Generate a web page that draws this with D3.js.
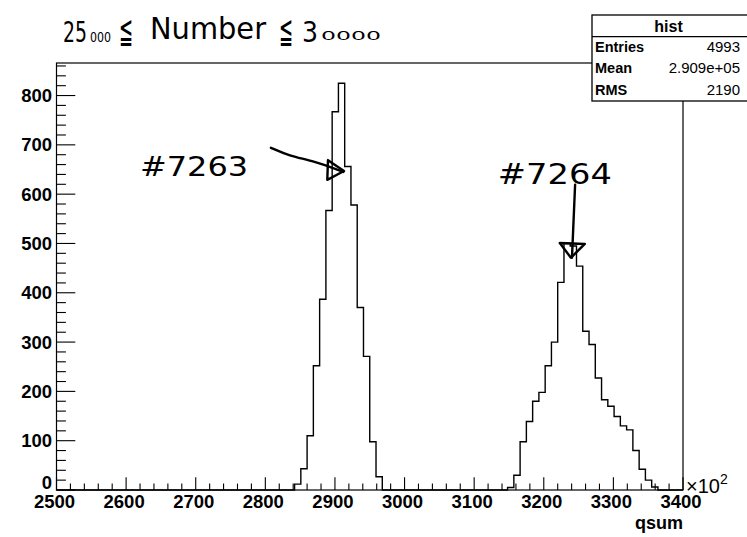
<!DOCTYPE html>
<html><head><meta charset="utf-8">
<script src="https://cdn.jsdelivr.net/npm/d3@7"></script>
<style>body{margin:0;background:#fff}svg{display:block}</style>
</head><body><svg id="c" width="747" height="537"></svg>
<script>
// ---- histogram definition (qsum, axis in units of 10^2) ----
const histLow = 2500, histHigh = 3400, binWidth = 9;
const peak1FirstBin = 38;   // run #7263
const peak1Counts = [12, 43, 110, 252, 387, 567, 767, 825, 656, 578, 370, 271, 98, 27];
const peak2FirstBin = 72;   // run #7264
const peak2Counts = [5, 30, 98, 139, 180, 198, 252, 300, 421, 500, 495, 454, 322, 295, 227, 183, 170, 149, 130, 122, 80, 42, 20, 6];
const xTicks = [2500, 2600, 2700, 2800, 2900, 3000, 3100, 3200, 3300, 3400];
const yTicks = [0, 100, 200, 300, 400, 500, 600, 700, 800];
const xTitle = "qsum";
const statsTitle = "hist";
const statsNames = ["Entries", "Mean", "RMS"];
const statsValues = ["4993", "2.909e+05", "2190"];
const runLabels = ["#7263", "#7264"];
const headerText = ["25", "000", "≦", "Number", "≦", "3", "0000"];
// annotation anchors in data units [qsum, counts]
const arrow1 = [[2808, 694], [2835, 677], [2871, 667], [2912, 645]];
const head1 = [[2890, 669], [2889, 629], [2913, 647]];
const arrow2 = [[3245, 619], [3240.5, 471]];
const head2 = [[3223, 501], [3259, 499], [3239, 471]];
const label1Pos = [2620, 637];
const label2Pos = [3134, 620];

const yMax = 866;
const svg = d3.select("#c");
const L = 56.5, R = 683, T = 63, B = 490;
const x = d3.scaleLinear().domain([histLow, histHigh]).range([L, R]);
const y = d3.scaleLinear().domain([0, yMax]).range([B, T]);

// bins
const nBins = Math.round((histHigh - histLow) / binWidth);
const counts = new Array(nBins).fill(0);
peak1Counts.forEach((v, i) => counts[peak1FirstBin + i] = v);
peak2Counts.forEach((v, i) => counts[peak2FirstBin + i] = v);
const pts = counts.map((v, i) => [histLow + i * binWidth, v]);
pts.push([histHigh, counts[nBins - 1]]);

svg.append("rect").attr("width", 747).attr("height", 537).attr("fill", "#fff");

// frame
svg.append("rect").attr("x", L).attr("y", T).attr("width", R - L).attr("height", B - T)
  .attr("fill", "none").attr("stroke", "#000").attr("stroke-width", 1.2);

// histogram
const line = d3.line().x(d => x(d[0])).y(d => y(d[1])).curve(d3.curveStepAfter);
svg.append("path").attr("d", line(pts)).attr("fill", "none").attr("stroke", "#000").attr("stroke-width", 1.4);

// x axis ticks (inside, upward)
const xMinor = d3.range(histLow, histHigh + 0.1, 20);
svg.append("g").selectAll("line").data(xMinor).join("line")
  .attr("x1", d => x(d)).attr("x2", d => x(d))
  .attr("y1", B).attr("y2", d => B - (d % 100 === 0 ? 12.8 : 6.4))
  .attr("stroke", "#000").attr("stroke-width", 1.1);
svg.append("g").selectAll("text").data(xTicks).join("text")
  .attr("x", d => x(d) - 2).attr("y", 508).attr("text-anchor", "middle")
  .attr("font-family", "Liberation Sans, Arial, sans-serif").attr("font-weight", "bold")
  .attr("font-size", 18.5).text(d => d);

// y axis ticks (inside, rightward)
const yMinor = d3.range(0, yMax, 20);
svg.append("g").selectAll("line").data(yMinor).join("line")
  .attr("y1", d => y(d)).attr("y2", d => y(d))
  .attr("x1", L).attr("x2", d => L + (d % 100 === 0 ? 18.8 : 9.4))
  .attr("stroke", "#000").attr("stroke-width", 1.1);
svg.append("g").selectAll("text").data(yTicks).join("text")
  .attr("x", 52).attr("y", d => y(d) + (d === 0 ? -1 : 6.5)).attr("text-anchor", "end")
  .attr("font-family", "Liberation Sans, Arial, sans-serif").attr("font-weight", "bold")
  .attr("font-size", 18.5).text(d => d);

// x10^2 and axis title
const ex = svg.append("text").attr("x", 686).attr("y", 493)
  .attr("font-family", "Liberation Sans, Arial, sans-serif").attr("font-size", 20);
ex.append("tspan").text("×10");
ex.append("tspan").attr("dy", -9).attr("font-size", 14).text("2");
svg.append("text").attr("x", 683).attr("y", 529).attr("text-anchor", "end")
  .attr("font-family", "Liberation Sans, Arial, sans-serif").attr("font-weight", "bold")
  .attr("font-size", 18).text(xTitle);

// stats box
const sb = svg.append("g");
const sx = 592, sy = 15, sw = 160, sh = 86;
sb.append("rect").attr("x", sx).attr("y", sy).attr("width", sw).attr("height", sh)
  .attr("fill", "#fff").attr("stroke", "#000").attr("stroke-width", 1.3);
sb.append("line").attr("x1", sx).attr("x2", sx + sw).attr("y1", 36.7).attr("y2", 36.7)
  .attr("stroke", "#000").attr("stroke-width", 1.2);
sb.append("text").attr("x", 668.5).attr("y", 31.5).attr("text-anchor", "middle")
  .attr("font-family", "Liberation Sans, Arial, sans-serif").attr("font-weight", "bold")
  .attr("font-size", 16).text(statsTitle);
statsNames.forEach((n, i) => {
  const by = 51.5 + i * 21.5;
  sb.append("text").attr("x", 595).attr("y", by)
    .attr("font-family", "Liberation Sans, Arial, sans-serif").attr("font-weight", "bold")
    .attr("font-size", 14.5).text(n);
  sb.append("text").attr("x", 740).attr("y", by).attr("text-anchor", "end")
    .attr("font-family", "Liberation Sans, Arial, sans-serif")
    .attr("font-size", 15).text(statsValues[i]);
});

// handwritten annotations
const hand = "DejaVu Sans, sans-serif";
const pen = {stroke: "#000", "stroke-width": 2.4, fill: "none", "stroke-linecap": "round", "stroke-linejoin": "round"};
function applyPen(sel) { Object.entries(pen).forEach(([k, v]) => sel.attr(k, v)); return sel; }
const toPx = d => [x(d[0]), y(d[1])];
applyPen(svg.append("path").attr("d", d3.line().curve(d3.curveBasis)(arrow1.map(toPx))));
applyPen(svg.append("path").attr("d", d3.line().curve(d3.curveLinearClosed)(head1.map(toPx))));
applyPen(svg.append("path").attr("d", d3.line()(arrow2.map(toPx))));
applyPen(svg.append("path").attr("d", d3.line().curve(d3.curveLinearClosed)(head2.map(toPx))));

svg.append("text").attr("x", x(label1Pos[0])).attr("y", y(label1Pos[1]))
  .attr("font-family", hand).attr("font-size", 27).attr("textLength", 108)
  .attr("lengthAdjust", "spacingAndGlyphs").text(runLabels[0]);
svg.append("text").attr("x", x(label2Pos[0])).attr("y", y(label2Pos[1]))
  .attr("font-family", hand).attr("font-size", 28).attr("textLength", 114)
  .attr("lengthAdjust", "spacingAndGlyphs").text(runLabels[1]);

// header line "25000 ≦ Number ≦ 30000"
const hdr = [
  {t: headerText[0], x: 63, y: 42, s: 28, w: 24},
  {t: headerText[1], x: 90, y: 42, s: 14, w: 21},
  {t: headerText[2], x: 119, y: 43, s: 36, w: 14},
  {t: headerText[3], x: 150, y: 39, s: 30, w: 116},
  {t: headerText[4], x: 279, y: 43, s: 36, w: 14},
  {t: headerText[5], x: 302, y: 42, s: 28, w: 16},
  {t: headerText[6], x: 321, y: 40, s: 13, w: 60}
];
hdr.forEach(h => svg.append("text").attr("x", h.x).attr("y", h.y)
  .attr("font-family", hand).attr("font-size", h.s).attr("textLength", h.w)
  .attr("lengthAdjust", "spacingAndGlyphs").text(h.t));
</script></body></html>
